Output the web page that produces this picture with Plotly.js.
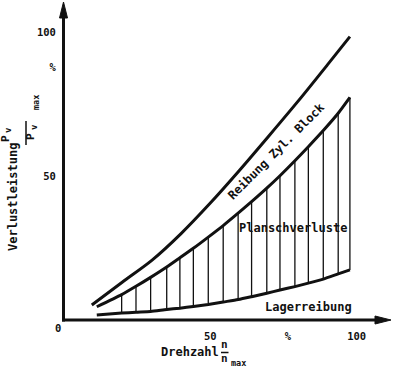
<!DOCTYPE html>
<html><head><meta charset="utf-8">
<script src="https://cdn.plot.ly/plotly-3.0.1.min.js"></script>
<style>html,body{margin:0;padding:0;background:#fff;}#chart{width:400px;height:373px;}</style>
</head><body><div id="chart"></div>
<script>
// ---- data (x: speed n/n_max in %, y: loss P_v/P_v max in %) ----
const upperX   = [9.5, 20, 30, 40, 50, 60, 70, 80, 90, 97.7];
const upperY   = [5.2, 13.2, 20.7, 30.0, 40.6, 52.0, 63.9, 76.0, 88.6, 98.4];
const lowerX   = [11.2, 19.7, 24.6, 29.6, 35.1, 39.6, 44.2, 49.3, 54.4, 59.5, 64.1, 69.3, 73.8, 78.9, 83.5, 88.6, 93.7, 97.7];
const planschY = [4.6, 8.8, 11.7, 14.8, 18.4, 21.6, 24.9, 28.8, 32.8, 37.1, 41.1, 45.8, 50.1, 55.3, 60.2, 65.8, 71.8, 77.3];
const lagerY   = [1.7, 2.4, 2.7, 2.95, 3.65, 4.1, 4.7, 5.4, 6.25, 7.1, 8.1, 9.3, 10.4, 11.6, 12.8, 14.2, 16.0, 17.4];
const xTickVals = [50, 76.5, 100];
const xTickText = ['50', '%', '100'];
const yTickVals = [50, 87.8, 100];
const yTickText = ['50', '%', '100'];

const INK = '#111';
const FAM = 'DejaVu Sans Mono';

// hatch lines between Lagerreibung and Planschverluste curves
const hx = [], hy = [];
for (let i = 1; i < lowerX.length; i++) {
  hx.push(lowerX[i], lowerX[i], null);
  hy.push(lagerY[i], planschY[i], null);
}

const traces = [
  {x: hx, y: hy, mode: 'lines', line: {color: INK, width: 1.3}, hoverinfo: 'skip', connectgaps: false},
  {x: upperX, y: upperY, mode: 'lines', line: {color: INK, width: 3, shape: 'spline', smoothing: 0.8}},
  {x: lowerX, y: planschY, mode: 'lines', line: {color: INK, width: 3, shape: 'spline', smoothing: 0.6}},
  {x: lowerX, y: lagerY, mode: 'lines', line: {color: INK, width: 3, shape: 'spline', smoothing: 0.6}}
];

// pixel -> paper helpers (plot area: left 64, right 390, top 5, bottom 320)
const L = 64, T = 5, W = 326, H = 315;
const fx = px => (px - L) / W;
const fy = py => (T + H - py) / H;

function txt(text, px, py, size, angle) {
  return {text: text, x: fx(px), y: fy(py), xref: 'paper', yref: 'paper', showarrow: false,
          xanchor: 'center', yanchor: 'middle', textangle: angle || 0,
          font: {family: FAM, size: size, color: INK, weight: 'bold'}};
}
function seg(x0, y0, x1, y1, w) {
  return {type: 'line', xref: 'paper', yref: 'paper', x0: fx(x0), y0: fy(y0), x1: fx(x1), y1: fy(y1),
          line: {color: INK, width: w}, layer: 'above'};
}
function tri(a, b, c) {
  return {type: 'path', xref: 'paper', yref: 'paper', fillcolor: INK, line: {color: INK, width: 1}, layer: 'above',
          path: 'M' + fx(a[0]) + ',' + fy(a[1]) + 'L' + fx(b[0]) + ',' + fy(b[1]) + 'L' + fx(c[0]) + ',' + fy(c[1]) + 'Z'};
}

const layout = {
  width: 400, height: 373,
  margin: {l: L, r: 400 - L - W, t: T, b: 373 - T - H},
  paper_bgcolor: '#fff', plot_bgcolor: '#fff',
  showlegend: false,
  font: {family: FAM, color: INK},
  xaxis: {range: [0, 111.4], showgrid: false, zeroline: false, showline: false,
          tickmode: 'array', tickvals: xTickVals, ticktext: xTickText,
          ticks: 'outside', ticklen: 6, tickcolor: 'rgba(0,0,0,0)',
          tickfont: {family: FAM, size: 10.5, color: INK, weight: 'bold'}},
  yaxis: {range: [0, 109.4], showgrid: false, zeroline: false, showline: false,
          tickmode: 'array', tickvals: yTickVals, ticktext: yTickText,
          ticks: 'outside', ticklen: 5, tickcolor: 'rgba(0,0,0,0)',
          tickfont: {family: FAM, size: 10.5, color: INK, weight: 'bold'}},
  shapes: [
    seg(63.5, 321.5, 63.5, 14, 3),
    seg(62, 320, 378, 320, 3),
    tri([63.5, 2], [59.5, 18], [67.5, 18]),
    tri([391, 320], [375, 316], [375, 324]),
    seg(26, 121, 26, 145, 1.5),
    seg(221, 352.5, 228.5, 352.5, 1.5)
  ],
  annotations: [
    txt('0', 58, 328, 10.5),
    txt('Verlustleistung', 13, 197, 12, -90),
    txt('P', 5, 139, 11, -90),
    txt('v', 8, 130, 9, -90),
    txt('P', 31, 137, 11, -90),
    txt('v', 34, 127, 9, -90),
    txt('max', 36, 103, 8.5, -90),
    txt('Drehzahl', 190, 352, 12),
    txt('n', 224.5, 344, 11),
    txt('n', 224.5, 358, 11),
    txt('max', 238, 363, 8.5),
    txt('Reibung Zyl. Block', 276.5, 151, 12, -45),
    txt('Planschverluste', 292.5, 228, 12),
    txt('Lagerreibung', 308.5, 306.5, 12)
  ]
};

Plotly.newPlot('chart', traces, layout, {staticPlot: true, displayModeBar: false});
</script>
</body></html>
